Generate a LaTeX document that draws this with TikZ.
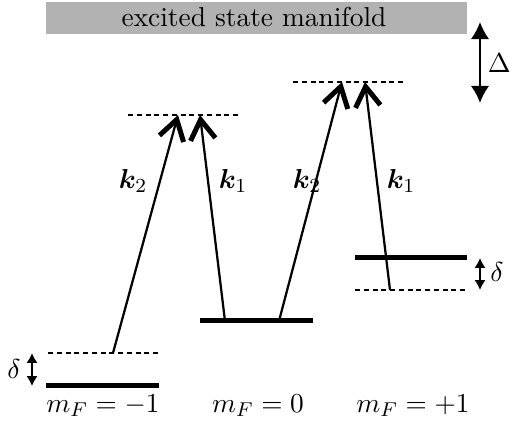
\documentclass[tikz,border=0pt]{standalone}
\usepackage{amsmath,amssymb,bm}
\usetikzlibrary{arrows.meta,calc,positioning}

\begin{document}
\begin{tikzpicture}[
    x=0.4pt, y=-0.4pt,
    level/.style={draw=black, line width=2pt},
    virtual/.style={draw=black, dash pattern=on 2pt off 1.5pt, line width=0.6pt},
    beam/.style={draw=black, line width=0.9pt,
      -{Straight Barb[length=2.8mm, width=10pt, line width=2pt]}},
    gap/.style={draw=black, line width=0.9pt,
      {Latex[length=2.4mm, width=2.6mm]}-{Latex[length=2.4mm, width=2.6mm]}},
    smallgap/.style={draw=black, line width=0.8pt,
      {Latex[length=1.4mm, width=1.6mm]}-{Latex[length=1.4mm, width=1.6mm]}},
    label/.style={font=\fontsize{10.95}{13}\selectfont},
]
\useasboundingbox (0,0) rectangle (513,424);

% ---------------------------------------------------------
% Excited state manifold and detuning
% ---------------------------------------------------------
\fill[black!30] (46,2) rectangle (467,34);
\node[label] (manifold) at (254,17) {excited state manifold};

\coordinate (DeltaTop) at (480,22);
\coordinate (DeltaBot) at (480,103);
\draw[gap] (DeltaTop) -- (DeltaBot);
\node[label,right] (Delta) at (479,63) {$\Delta$};

% ---------------------------------------------------------
% Virtual levels
% ---------------------------------------------------------
\draw[virtual] (128,115) -- (241,115);
\draw[virtual] (293,82) -- (406,82);
\draw[virtual] (48,353) -- (160,353);
\draw[virtual] (355,290) -- (467,290);

% ---------------------------------------------------------
% Ground state sublevels
% ---------------------------------------------------------
\draw[level] (46,386) -- (159,386);
\draw[level] (200,321) -- (313,321);
\draw[level] (355,258) -- (467,258);

\node[label] (mminus) at (103,406) {$m_F=-1$};
\node[label] (mzero)  at (258,406) {$m_F=0$};
\node[label] (mplus)  at (413,406) {$m_F=+1$};

% ---------------------------------------------------------
% Raman beams
% ---------------------------------------------------------
\coordinate (A1) at (113,353);  \coordinate (B1) at (178,115);
\coordinate (A2) at (225,321);  \coordinate (B2) at (200,115);
\coordinate (A3) at (279,321);  \coordinate (B3) at (342,82);
\coordinate (A4) at (390,290);  \coordinate (B4) at (365,82);
\draw[beam] (A1) -- (B1);
\draw[beam] (A2) -- (B2);
\draw[beam] (A3) -- (B3);
\draw[beam] (A4) -- (B4);

\node[label] (kL2) at (133,181) {$\bm{k}_2$};
\node[label] (kL1) at (233,181) {$\bm{k}_1$};
\node[label] (kR2) at (307,181) {$\bm{k}_2$};
\node[label] (kR1) at (401,181) {$\bm{k}_1$};

% ---------------------------------------------------------
% Zeeman shifts
% ---------------------------------------------------------
\coordinate (dLtop) at (32,353);
\coordinate (dLbot) at (32,386);
\draw[smallgap] (dLtop) -- (dLbot);
\node[label] (deltaL) at (14,369) {$\delta$};

\coordinate (dRtop) at (480,258);
\coordinate (dRbot) at (480,290);
\draw[smallgap] (dRtop) -- (dRbot);
\node[label] (deltaR) at (497,272) {$\delta$};

\end{tikzpicture}
\end{document}
